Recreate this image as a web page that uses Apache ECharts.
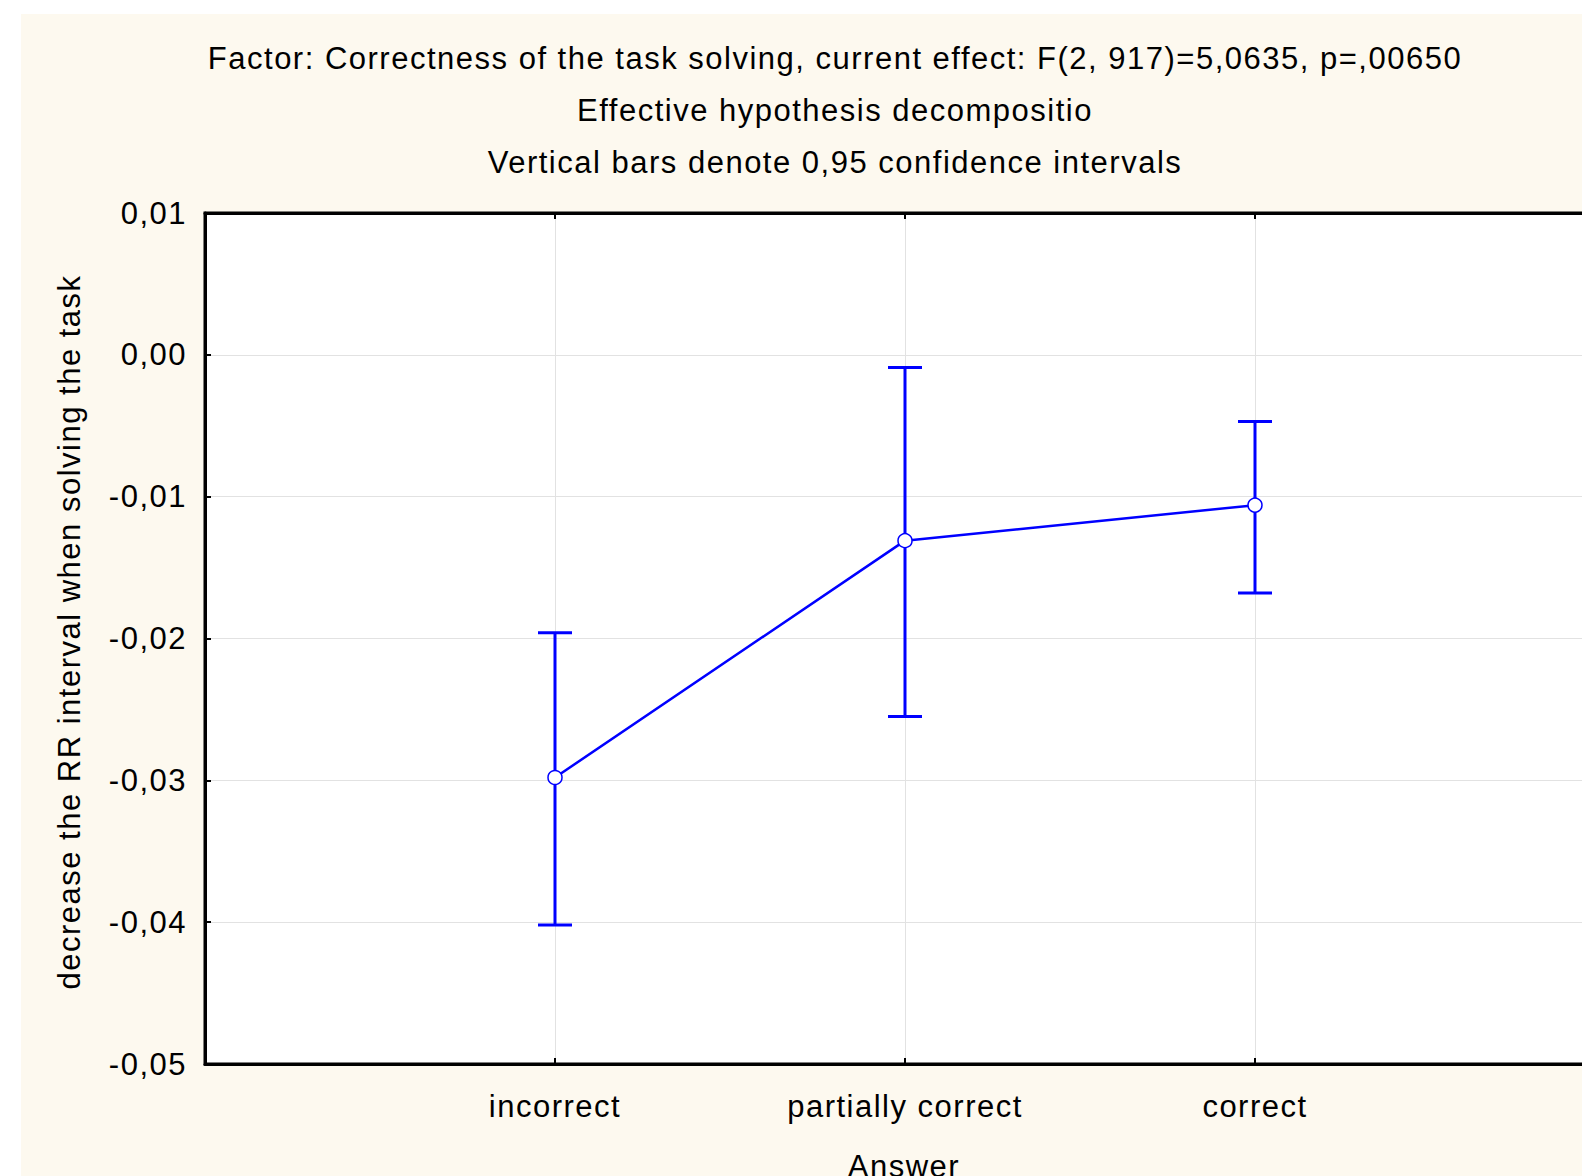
<!DOCTYPE html>
<html>
<head>
<meta charset="utf-8">
<script src="https://cdn.jsdelivr.net/npm/echarts@6/dist/echarts.min.js"></script>
<style>
  html, body { margin: 0; padding: 0; background: #ffffff; overflow: hidden; width: 1582px; height: 1176px; }
  #bg { position: absolute; left: 21px; top: 14px; width: 1561px; height: 1162px; background: #fdf9ef; }
  #chart { position: absolute; left: 0; top: 0; width: 1620px; height: 1176px; }
  #chart text { letter-spacing: 1.5px; }
</style>
</head>
<body>
<div id="bg"></div>
<div id="chart"></div>
<script>
// ---- data ----
const categories = ['incorrect', 'partially correct', 'correct'];
const means      = [-0.0298, -0.0131, -0.0106];
const lowerCI    = [-0.0402, -0.0255, -0.0168];
const upperCI    = [-0.0196, -0.0009, -0.0047];
const yTicks     = { min: -0.05, max: 0.01, interval: 0.01 };
const titleLines = [
  'Factor: Correctness of the task solving, current effect: F(2, 917)=5,0635, p=,00650',
  'Effective hypothesis decompositio',
  'Vertical bars denote 0,95 confidence intervals'
];
const yAxisName = 'decrease the RR interval when solving the task';
const xAxisName = 'Answer';

// ---- build ----
const axisCats = [' '].concat(categories, ['  ']);
const isCat = (i) => i >= 1 && i <= categories.length;
const FONT = '"Liberation Sans", Arial, sans-serif';
const FS = 31;
const BLUE = '#0000ff';

const lineData = categories.map((c, i) => [i + 1, means[i]]);
const errData = categories.map((c, i) => [i + 1, lowerCI[i], upperCI[i]]);

const chart = echarts.init(document.getElementById('chart'), null, { renderer: 'svg' });
chart.setOption({
  backgroundColor: 'transparent',
  animation: false,
  title: titleLines.map((t, i) => ({
    text: t,
    left: 835,
    top: 43 + i * 52,
    textAlign: 'center',
    padding: 0,
    textStyle: { fontFamily: FONT, fontSize: FS, fontWeight: 'normal', color: '#000' }
  })),
  graphic: [
    {
      type: 'text', x: 69, y: 632, rotation: Math.PI / 2,
      style: { text: yAxisName, fontFamily: FONT, fontSize: FS, fill: '#000', align: 'center', verticalAlign: 'middle' }
    },
    {
      type: 'text', x: 904, y: 1151,
      style: { text: xAxisName, fontFamily: FONT, fontSize: FS, fill: '#000', align: 'center', verticalAlign: 'top' }
    }
  ],
  grid: {
    left: 205, top: 213, width: 1400, height: 851,
    show: true, backgroundColor: '#ffffff', borderColor: '#000', borderWidth: 3
  },
  xAxis: [
    {
      type: 'category', data: axisCats, boundaryGap: false, position: 'bottom',
      axisLine: { show: true, onZero: false, lineStyle: { color: '#000', width: 3 } },
      axisTick: { show: true, inside: true, length: 6, interval: (i) => isCat(i), lineStyle: { color: '#000', width: 2 } },
      axisLabel: { interval: (i) => isCat(i), margin: 27, fontFamily: FONT, fontSize: FS, color: '#000' },
      splitLine: { show: true, interval: (i) => isCat(i), lineStyle: { color: '#e2e2e2', width: 1 } }
    },
    {
      type: 'category', data: axisCats, boundaryGap: false, position: 'top',
      axisLine: { show: true, onZero: false, lineStyle: { color: '#000', width: 3 } },
      axisTick: { show: true, inside: true, length: 6, interval: (i) => isCat(i), lineStyle: { color: '#000', width: 2 } },
      axisLabel: { show: false },
      splitLine: { show: false }
    }
  ],
  yAxis: {
    type: 'value', min: yTicks.min, max: yTicks.max, interval: yTicks.interval,
    axisLine: { show: true, onZero: false, lineStyle: { color: '#000', width: 3 } },
    axisTick: { show: true, inside: true, length: 6, lineStyle: { color: '#000', width: 2 } },
    axisLabel: {
      margin: 18, fontFamily: FONT, fontSize: FS, color: '#000',
      formatter: (v) => { const r = Math.round(v * 100) / 100; return (Object.is(r, -0) ? 0 : r).toFixed(2).replace('.', ','); }
    },
    splitLine: { show: true, lineStyle: { color: '#e2e2e2', width: 1 } }
  },
  series: [
    {
      type: 'custom', xAxisIndex: 0, z: 3,
      data: errData,
      renderItem: (params, api) => {
        const x = api.value(0);
        const lo = api.coord([x, api.value(1)]);
        const hi = api.coord([x, api.value(2)]);
        const hw = 17;
        const st = { stroke: BLUE, lineWidth: 3 };
        return {
          type: 'group',
          children: [
            { type: 'line', shape: { x1: lo[0], y1: lo[1], x2: hi[0], y2: hi[1] }, style: st },
            { type: 'line', shape: { x1: lo[0] - hw, y1: lo[1], x2: lo[0] + hw, y2: lo[1] }, style: st },
            { type: 'line', shape: { x1: hi[0] - hw, y1: hi[1], x2: hi[0] + hw, y2: hi[1] }, style: st }
          ]
        };
      }
    },
    {
      type: 'line', xAxisIndex: 0, z: 5,
      data: lineData,
      symbol: 'circle', symbolSize: 14,
      lineStyle: { color: BLUE, width: 2.5 },
      itemStyle: { color: '#ffffff', borderColor: BLUE, borderWidth: 1.5 }
    }
  ]
});
</script>
</body>
</html>
